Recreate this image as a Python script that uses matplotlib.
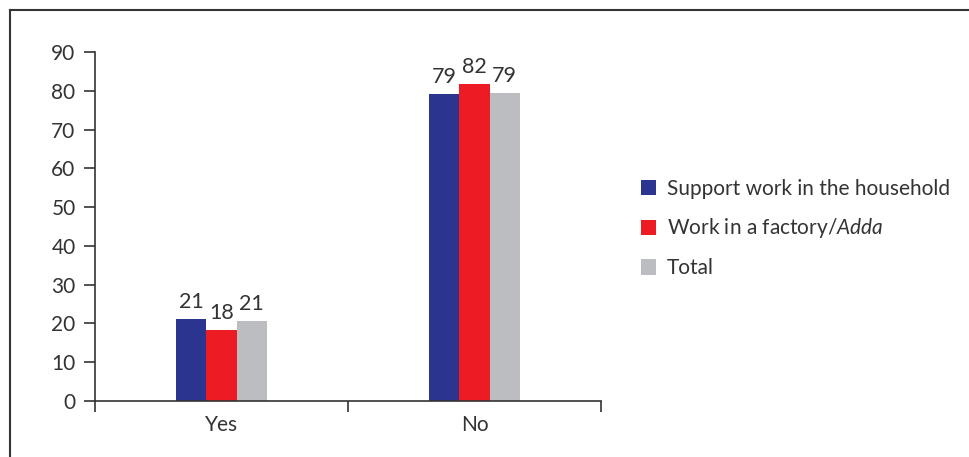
import numpy as np
import matplotlib.pyplot as plt
from matplotlib.lines import Line2D

plt.rcParams['font.family'] = ['Lato', 'DejaVu Sans']
plt.rcParams['mathtext.fontset'] = 'custom'
plt.rcParams['mathtext.rm'] = 'Lato'
plt.rcParams['mathtext.it'] = 'Lato:italic'

# Data
categories = ['Yes', 'No']
series_names = ['Support work in the household', 'Work in a factory/$\\it{Adda}$', 'Total']
household = [21.1, 79.2]
factory = [18.3, 81.7]
total = [20.6, 79.4]
household_labels = ['21', '79']
factory_labels = ['18', '82']
total_labels = ['21', '79']

colors = ['#2B3590', '#ED1C24', '#BCBDC0']
txt = '#333333'

fig = plt.figure(figsize=(9.69, 4.57), dpi=100)
ax = fig.add_axes([95 / 969, 1 - 401 / 457, 506 / 969, 349 / 457])

x = np.arange(len(categories))
w = 0.12
series = [household, factory, total]
labels = [household_labels, factory_labels, total_labels]
bars = []
for i, (vals, labs) in enumerate(zip(series, labels)):
    b = ax.bar(x + (i - 1) * w, vals, w, color=colors[i], label=series_names[i], zorder=2)
    bars.append(b)
    for rect, lab in zip(b, labs):
        ax.annotate(lab, (rect.get_x() + rect.get_width() / 2, rect.get_height()),
                    xytext=(0, 5), textcoords='offset points',
                    ha='center', va='bottom', fontsize=15.5, color=txt)

ax.set_xlim(-0.5, 1.5)
ax.set_ylim(0, 90)
ax.set_yticks(np.arange(0, 91, 10))
ax.set_xticks(x)
ax.set_xticklabels(categories)
ax.set_xticks([-0.5, 0.5, 1.5], minor=True)
ax.tick_params(axis='x', which='major', length=0, pad=10, labelsize=15, labelcolor=txt)
ax.tick_params(axis='x', which='minor', length=8, width=1.2, direction='out', color='#333333')
ax.tick_params(axis='y', length=8, width=1.2, direction='out', pad=6, labelsize=15,
               labelcolor=txt, color='#333333')
for s in ['top', 'right']:
    ax.spines[s].set_visible(False)
for s in ['left', 'bottom']:
    ax.spines[s].set_linewidth(1.2)
    ax.spines[s].set_color('#333333')

leg = fig.legend(handles=bars, labels=series_names, loc='upper left',
                 bbox_to_anchor=(622 / 969, 1 - 160 / 457), frameon=False,
                 fontsize=15, handlelength=0.75, handleheight=0.75,
                 handletextpad=0.5, labelspacing=0.85, labelcolor=txt)

# outer frame lines (top and left)
fig.add_artist(Line2D([10 / 969, 1], [1 - 10 / 457, 1 - 10 / 457], color='#333333', lw=1.5))
fig.add_artist(Line2D([10 / 969, 10 / 969], [0, 1 - 10 / 457], color='#333333', lw=1.5))

fig.savefig('out.png', dpi=100)
